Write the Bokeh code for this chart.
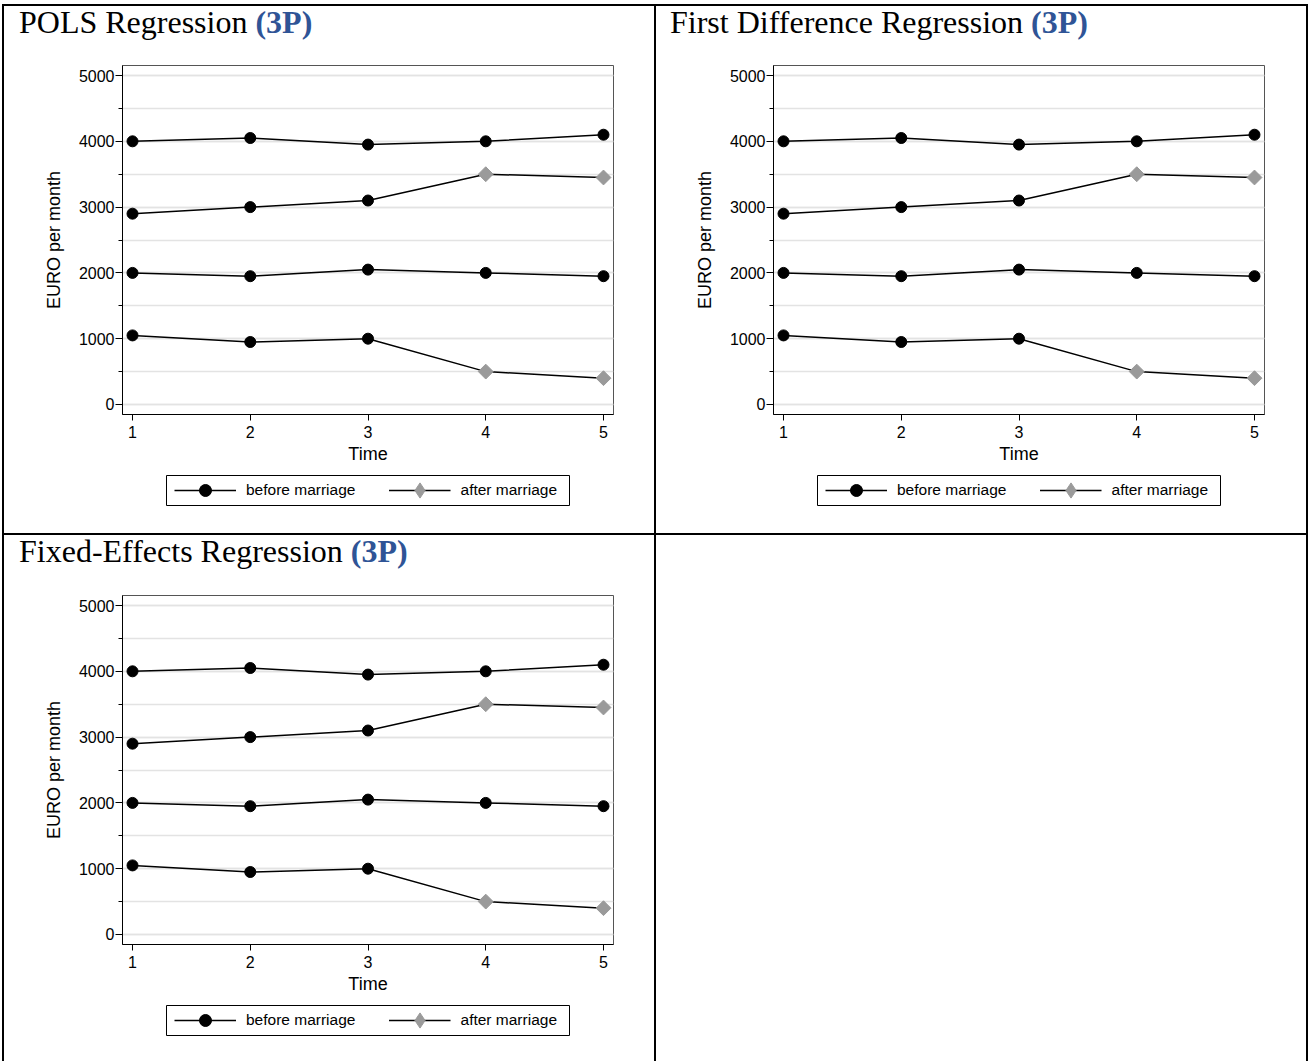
import math
from bokeh.plotting import figure
from bokeh.layouts import column, row
from bokeh.models import (Div, Legend, LegendItem, SingleIntervalTicker,
                          FixedTicker, Range1d)
from bokeh.embed import file_html
from bokeh.resources import INLINE

# ---------------- data ----------------
time = [1, 2, 3, 4, 5]
income_p1 = [4000, 4050, 3950, 4000, 4100]
income_p2 = [2900, 3000, 3100, 3500, 3450]
income_p3 = [2000, 1950, 2050, 2000, 1950]
income_p4 = [1050, 950, 1000, 500, 400]
married_p1 = [0, 0, 0, 0, 0]
married_p2 = [0, 0, 0, 1, 1]
married_p3 = [0, 0, 0, 0, 0]
married_p4 = [0, 0, 0, 1, 1]
persons = [(income_p1, married_p1), (income_p2, married_p2),
           (income_p3, married_p3), (income_p4, married_p4)]
panel_titles = ["POLS Regression", "First Difference Regression",
                "Fixed-Effects Regression"]
badge = "(3P)"
legend_labels = ["before marriage", "after marriage"]
x_ticks = [1, 2, 3, 4, 5]
y_tick_interval = 1000
x_label = "Time"
y_label = "EURO per month"

SANS = "Liberation Sans"
SERIF = "Liberation Serif"
BLUE = "#2F5496"
BORDER = 2
GREY_MARK = "#9A9A9A"


def make_title(text, width, height, pad_left, pad_top):
    html = (f'<div style="font-family:\'{SERIF}\',\'Times New Roman\',serif;'
            f'font-size:32px;line-height:1.0;padding-left:{pad_left}px;'
            f'padding-top:{pad_top}px;color:#000;white-space:nowrap;">{text} '
            f'<b style="color:{BLUE}">{badge}</b></div>')
    return Div(text=html, width=width, height=height, margin=0)


def style_axes(p):
    p.xgrid.visible = False
    p.ygrid.grid_line_color = "#E3E3E3"
    p.ygrid.grid_line_width = 1.5
    p.ygrid.minor_grid_line_color = "#E3E3E3"
    p.ygrid.minor_grid_line_width = 1.5

    ya = p.yaxis[0]
    ya.ticker = SingleIntervalTicker(interval=y_tick_interval, num_minor_ticks=2)
    ya.axis_label = y_label
    ya.axis_label_text_font = SANS
    ya.axis_label_text_font_size = "18px"
    ya.axis_label_text_font_style = "normal"
    ya.axis_label_text_color = "black"
    ya.axis_label_standoff = 12
    ya.major_label_text_font = SANS
    ya.major_label_text_font_size = "16px"
    ya.major_label_text_color = "black"
    ya.major_label_standoff = 1
    ya.major_tick_out = 7
    ya.major_tick_in = 0
    ya.minor_tick_out = 4
    ya.minor_tick_in = 0
    ya.axis_line_color = "black"
    ya.major_tick_line_color = "black"
    ya.minor_tick_line_color = "black"

    xa = p.xaxis[0]
    xa.ticker = FixedTicker(ticks=x_ticks)
    xa.axis_label = x_label
    xa.axis_label_text_font = SANS
    xa.axis_label_text_font_size = "18px"
    xa.axis_label_text_font_style = "normal"
    xa.axis_label_text_color = "black"
    xa.axis_label_standoff = 3
    xa.major_label_text_font = SANS
    xa.major_label_text_font_size = "16px"
    xa.major_label_text_color = "black"
    xa.major_label_standoff = 5
    xa.major_tick_out = 6
    xa.major_tick_in = 0
    xa.minor_tick_line_color = None
    xa.axis_line_color = "black"
    xa.major_tick_line_color = "black"


def make_plot(width, height, left, right, top, bottom):
    p = figure(width=width, height=height,
               x_range=Range1d(0.915, 5.085), y_range=Range1d(-152, 5152),
               output_backend="svg", toolbar_location=None,
               min_border_left=left, min_border_right=right,
               min_border_top=top, min_border_bottom=bottom,
               frame_align=False)
    p.background_fill_color = "white"
    p.border_fill_color = "white"
    p.outline_line_color = "#555555"
    p.outline_line_width = 1
    style_axes(p)

    for inc, mar in persons:
        p.line(time, inc, line_color="black", line_width=1.5)

    bx = [t for inc, mar in persons for t, v, m in zip(time, inc, mar) if m == 0]
    by = [v for inc, mar in persons for t, v, m in zip(time, inc, mar) if m == 0]
    ax = [t for inc, mar in persons for t, v, m in zip(time, inc, mar) if m == 1]
    ay = [v for inc, mar in persons for t, v, m in zip(time, inc, mar) if m == 1]

    p.scatter(bx, by, marker="circle", size=11,
              fill_color="black", line_color="black")
    p.scatter(ax, ay, marker="square", size=10.5, angle=math.pi / 4,
              fill_color=GREY_MARK, line_color=GREY_MARK)
    return p


def make_legend_fig(width, height, box_left, box_right, box_top, box_h):
    # the frame of this small figure is the legend box (its outline = border)
    lf = figure(width=width, height=height, output_backend="svg",
                toolbar_location=None, x_range=Range1d(0, 1),
                y_range=Range1d(0, 1), x_axis_location=None,
                y_axis_location=None, min_border_left=box_left,
                min_border_right=box_right, min_border_top=box_top,
                min_border_bottom=height - box_top - box_h,
                frame_align=False)
    lf.grid.visible = False
    lf.outline_line_color = "black"
    lf.outline_line_width = 1
    lf.background_fill_color = "white"
    lf.border_fill_color = "white"
    # proxy renderers (outside the visible range) used only as legend keys
    ln = lf.line([-5, -4], [-5, -5], line_color="black", line_width=1.5)
    sc1 = lf.scatter([-5], [-5], marker="circle", size=11,
                     fill_color="black", line_color="black")
    sc2 = lf.scatter([-5], [-5], marker="diamond", size=15,
                     fill_color=GREY_MARK, line_color=GREY_MARK)
    common = dict(orientation="horizontal", glyph_width=62,
                  label_standoff=10, padding=0, border_line_color=None,
                  background_fill_alpha=0, label_text_font=SANS,
                  label_text_font_size="15.5px", label_text_color="black")
    leg1 = Legend(items=[LegendItem(label=legend_labels[0], renderers=[ln, sc1])],
                  location="center_left", margin=8,
                  glyph_height=30, label_height=30, **common)
    leg2 = Legend(items=[LegendItem(label=legend_labels[1], renderers=[ln, sc2])],
                  location="center_right", margin=12,
                  glyph_height=38, label_height=38, **common)
    lf.add_layout(leg1)
    lf.add_layout(leg2)
    return lf


def line_div(w, h):
    return Div(text="", width=w, height=h, margin=0,
               styles={"background-color": "black"})


# geometry of the table cells
W1, W2 = 650, 650
H1, H2 = 527, 526
LEG_W = 403


def make_cell(title, w, h, title_h, pad_left, left, right, top, leg_left):
    plot_h = top + 349 + 52
    leg_h = h - title_h - plot_h
    return column(make_title(title, w, title_h, pad_left, 0),
                  make_plot(w, plot_h, left, right, top, 52),
                  make_legend_fig(w, leg_h, leg_left, w - leg_left - LEG_W, 9, 30),
                  spacing=0)


cell1 = make_cell(panel_titles[0], W1, H1, 50, 15, 118, 41, 9, 162)
cell2 = make_cell(panel_titles[1], W2, H1, 50, 14, 117, 42, 9, 161)
cell3 = make_cell(panel_titles[2], W1, H2, 50, 15, 118, 41, 10, 162)
cell4 = Div(text="", width=W2, height=H2, margin=0)

total_w = W1 + W2 + 3 * BORDER
root = column(
    line_div(total_w, BORDER),
    row(line_div(BORDER, H1), cell1, line_div(BORDER, H1), cell2,
        line_div(BORDER, H1), spacing=0),
    line_div(total_w, BORDER),
    row(line_div(BORDER, H2), cell3, line_div(BORDER, H2), cell4,
        line_div(BORDER, H2), spacing=0),
    spacing=0, margin=(4, 0, 0, 2))

open("out.html", "w").write(file_html(root, INLINE))
